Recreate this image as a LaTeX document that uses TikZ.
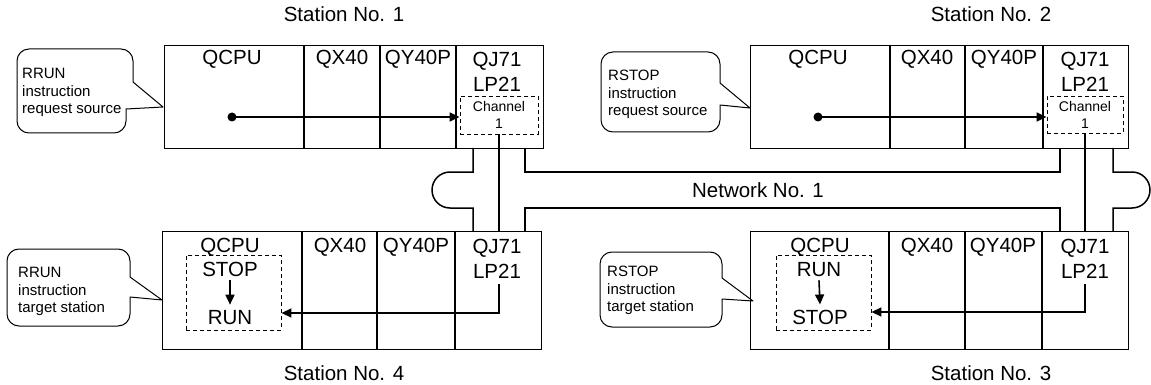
\documentclass[tikz,border=0pt]{standalone}
\usepackage{fontspec}
\setmainfont{Liberation Sans}
\usetikzlibrary{arrows.meta}
\newcommand{\bubblepath}[9]{%
  \draw[bubble] (#1+12,#2) -- (#3-12,#2) arc[start angle=270,end angle=360,radius=12]
    -- (#3,#5) -- (#6,#7) -- (#8,#9) -- (#8,#4-12) arc[start angle=0,end angle=90,radius=12]
    -- (#1+12,#4) arc[start angle=90,end angle=180,radius=12]
    -- (#1,#2+12) arc[start angle=180,end angle=270,radius=12] -- cycle;}
\begin{document}
\begin{tikzpicture}[x=1pt,y=-1pt,
  big/.style={font=\fontsize{20.5}{24}\selectfont, inner sep=0pt, anchor=base},
  ctext/.style={font=\fontsize{15}{17.5}\selectfont, inner sep=0pt, align=left, anchor=north west},
  stbox/.style={draw, line width=1pt, inner sep=0pt, anchor=north west, minimum width=379pt},
  divider/.style={line width=1.5pt},
  net/.style={line width=1.5pt},
  chanbox/.style={draw, dash pattern=on 4pt off 3pt, line width=0.9pt, inner sep=0pt},
  conn/.style={line width=1.6pt},
  arr/.style={conn, -{Triangle[length=10pt,width=9pt]}},
  bubble/.style={line width=1pt, line join=round},
]
\useasboundingbox (0,0) rectangle (1151,385);

% ---------- station boxes ----------
\node[stbox, minimum height=103pt] (st1) at (164,45) {};
\node[stbox, minimum height=103pt, minimum width=378pt] (st2) at (750,45) {};
\node[stbox, minimum height=118pt] (st4) at (162,231) {};
\node[stbox, minimum height=118pt, minimum width=378pt] (st3) at (750,231) {};

% dividers
\draw[divider] (304,45) -- (304,148) (380,45) -- (380,148) (456,45) -- (456,148);
\draw[divider] (890,45) -- (890,148) (965,45) -- (965,148) (1043,45) -- (1043,148);
\draw[divider] (302,231) -- (302,349) (377,231) -- (377,349) (455,231) -- (455,349);
\draw[divider] (889,231) -- (889,349) (965,231) -- (965,349) (1042,231) -- (1042,349);

% ---------- module labels ----------
\node[big] (q1) at (232,65) {QCPU};
\node[big] (x1) at (342,65) {QX40};
\node[big] (y1) at (418,65) {QY40P};
\node[big] (j1) at (497,67) {QJ71};
\node[big] (l1) at (497,92) {LP21};

\node[big] (q2) at (818,65) {QCPU};
\node[big] (x2) at (927,65) {QX40};
\node[big] (y2) at (1004,65) {QY40P};
\node[big] (j2) at (1085,67) {QJ71};
\node[big] (l2) at (1085,92) {LP21};

\node[big] (q4) at (230,252) {QCPU};
\node[big] (x4) at (340,252) {QX40};
\node[big] (y4) at (416,252) {QY40P};
\node[big] (j4) at (497,253) {QJ71};
\node[big] (l4) at (497,278) {LP21};

\node[big] (q3) at (820,252) {QCPU};
\node[big] (x3) at (927,252) {QX40};
\node[big] (y3) at (1003,252) {QY40P};
\node[big] (j3) at (1085,253) {QJ71};
\node[big] (l3) at (1085,278) {LP21};

% ---------- channel boxes ----------
\node[chanbox, minimum width=78pt, minimum height=38pt, align=center,
      font=\fontsize{14}{17}\selectfont] (ch1) at (499,115) {Channel\\1};
\node[chanbox, minimum width=76pt, minimum height=37pt, align=center,
      font=\fontsize{14}{17}\selectfont] (ch2) at (1085,114.5) {Channel\\1};

% ---------- state boxes ----------
\node[chanbox, minimum width=95pt, minimum height=75pt] (sb4) at (233.5,292.5) {};
\node[chanbox, minimum width=95pt, minimum height=75pt] (sb3) at (823.5,292.5) {};
\node[big] (stop4) at (230,276) {STOP};
\node[big] (run4) at (230,324) {RUN};
\node[big] (run3) at (819,276) {RUN};
\node[big] (stop3) at (820,324) {STOP};
\draw[arr] ([yshift=-4pt]stop4.south) -- ([yshift=5pt]run4.north);
\draw[arr] ([yshift=-4pt]run3.south) -- ([yshift=5pt]stop3.north);

% ---------- request arrows ----------
\coordinate (d1) at (232,117);
\coordinate (d2) at (818,117);
\fill (d1) circle[radius=4.5];
\fill (d2) circle[radius=4.5];
\draw[arr] (d1) -- (ch1.west |- d1);
\draw[arr] (d2) -- (ch2.west |- d2);

% ---------- channel lines ----------
\coordinate (r4) at (0,313);
\coordinate (r3) at (0,312);
\draw[conn] (ch1.south) -- (ch1.south |- st4.north);
\draw[conn] (ch2.south) -- (ch2.south |- st3.north);
\draw[arr] ([yshift=-6pt]ch1.south |- l4.south) |- (sb4.east |- r4);
\draw[arr] ([yshift=-6pt]ch2.south |- l3.south) |- (sb3.east |- r3);

% ---------- network ----------
\draw[net] (473,148) -- (473,172) -- (450,172) arc[start angle=270,end angle=90,radius=18]
  -- (473,208) -- (473,231);
\draw[net] (525,148) -- (525,172) -- (1060,172) -- (1060,148);
\draw[net] (525,231) -- (525,208) -- (1060,208) -- (1060,231);
\draw[net] (1113,148) -- (1113,172) -- (1132,172) arc[start angle=-90,end angle=90,radius=18]
  -- (1113,208) -- (1113,231);
\node[big] (netlbl) at (758,197) {Network No. 1};

% ---------- station labels ----------
\node[big] (s1) at (344,22) {Station No. 1};
\node[big] (s2) at (991,22) {Station No. 2};
\node[big] (s4) at (344,380) {Station No. 4};
\node[big] (s3) at (991,380) {Station No. 3};

% ---------- callouts ----------
\bubblepath{17}{49}{133}{133}{82}{163}{107}{126}{109}
\bubblepath{601}{52}{720}{132}{83}{750}{108}{720}{105}
\bubblepath{7}{249}{130}{326}{277}{162}{300}{130}{297}
\bubblepath{600}{252}{722}{327}{278}{753}{301}{722}{299}
\node[ctext] (c1) at (22,68) {RRUN\\instruction\\request source};
\node[ctext] (c2) at (608,70) {RSTOP\\instruction\\request source};
\node[ctext] (c3) at (18,267) {RRUN\\instruction\\target station};
\node[ctext] (c4) at (607,266) {RSTOP\\instruction\\target station};
\end{tikzpicture}
\end{document}
